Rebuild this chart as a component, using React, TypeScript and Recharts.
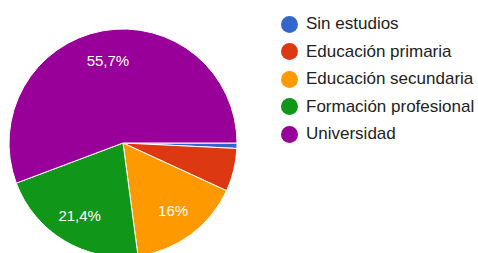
import { PieChart, Pie, Cell, Legend } from "recharts";

const categories = [
  "Sin estudios",
  "Educación primaria",
  "Educación secundaria",
  "Formación profesional",
  "Universidad",
];
const counts = [1, 8, 21, 28, 73];
const colors = ["#3366cc", "#dc3912", "#ff9900", "#109618", "#990099"];

const data = categories.map((name, i) => ({ name, value: counts[i] }));

const RADIAN = Math.PI / 180;
const FONT = "Arial, 'Liberation Sans', sans-serif";

function fmtPct(p: number) {
  const v = Math.round(p * 1000) / 10;
  return String(v).replace(".", ",") + "%";
}

function renderLabel(props: any) {
  const { cx, cy, midAngle, outerRadius, percent } = props;
  if (percent < 0.1) return null;
  const r = outerRadius * 0.74;
  const x = cx + r * Math.cos(-midAngle * RADIAN);
  const y = cy + r * Math.sin(-midAngle * RADIAN);
  return (
    <text x={x} y={y} fill="#ffffff" fontSize={15} fontFamily={FONT} textAnchor="middle" dominantBaseline="central">
      {fmtPct(percent)}
    </text>
  );
}

function LegendList() {
  return (
    <div style={{ fontFamily: FONT }}>
      {categories.map((c, i) => (
        <div key={c} style={{ display: "flex", alignItems: "center", height: 27.5 }}>
          <span
            style={{
              width: 17,
              height: 17,
              borderRadius: "50%",
              background: colors[i],
              display: "inline-block",
              marginRight: 8,
              flexShrink: 0,
            }}
          />
          <span style={{ fontSize: 17, color: "#222222", whiteSpace: "nowrap" }}>{c}</span>
        </div>
      ))}
    </div>
  );
}

export default function App() {
  return (
    <div style={{ position: "absolute", top: 0, left: 0, width: 478, height: 253, background: "#ffffff" }}>
      <PieChart width={478} height={253} margin={{ top: 0, right: 0, bottom: 0, left: 0 }}>
        <Pie
          data={data}
          dataKey="value"
          nameKey="name"
          cx={123}
          cy={143}
          outerRadius={114}
          startAngle={0}
          endAngle={-360}
          stroke="#ffffff"
          strokeWidth={1}
          labelLine={false}
          label={renderLabel}
          isAnimationActive={false}
        >
          {data.map((d, i) => (
            <Cell key={d.name} fill={colors[i]} />
          ))}
        </Pie>
        <Legend
          layout="vertical"
          verticalAlign="top"
          align="right"
          wrapperStyle={{ top: 10.5, left: 281, width: 200 }}
          content={() => <LegendList />}
        />
      </PieChart>
    </div>
  );
}
